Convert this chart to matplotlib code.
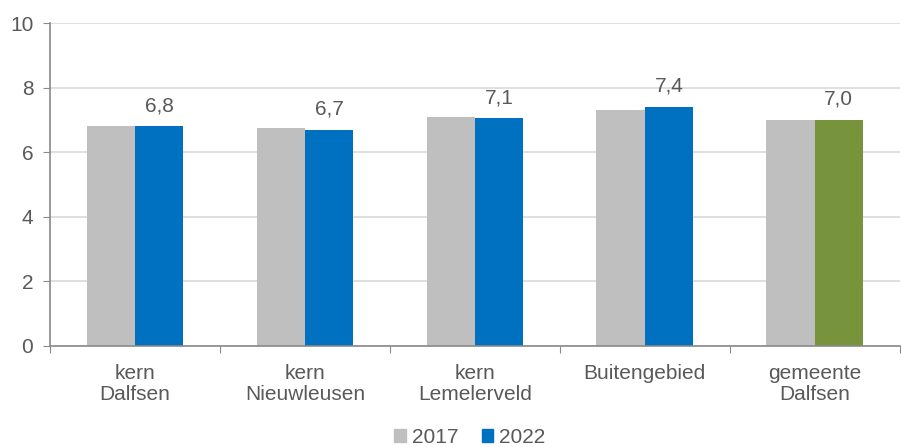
import numpy as np
import matplotlib.pyplot as plt
from matplotlib.patches import Patch

plt.rcParams['font.family'] = ['Liberation Sans', 'DejaVu Sans']

categories = ['kern\nDalfsen', 'kern\nNieuwleusen', 'kern\nLemelerveld', 'Buitengebied', 'gemeente\nDalfsen']
v2017 = [6.8, 6.75, 7.1, 7.3, 7.0]
v2022 = [6.8, 6.7, 7.05, 7.4, 7.0]
labels2022 = ['6,8', '6,7', '7,1', '7,4', '7,0']

grey = '#bfbfbf'
blue = '#0070c0'
green = '#77933c'
txt = '#595959'
fs = 15

fig = plt.figure(figsize=(9.02, 4.47), dpi=100)
ax = fig.add_axes([0.0554, 0.226, 0.942, 0.7225])

x = np.arange(len(categories))
w = 0.284
cols22 = [blue] * 4 + [green]
ax.bar(x - w / 2, v2017, w, color=grey, zorder=2)
ax.bar(x + w / 2, v2022, w, color=cols22, zorder=2)

for xi, v, lab in zip(x, v2022, labels2022):
    ax.annotate(lab, (xi + w / 2, v), xytext=(0, 8), textcoords='offset points',
                ha='center', va='bottom', fontsize=fs, color=txt)

ax.set_xlim(-0.5, len(categories) - 0.5)
ax.set_ylim(0, 10)
ax.set_yticks(range(0, 11, 2))
ax.yaxis.grid(True, color='#d9d9d9', linewidth=1.2, zorder=0)

ax.set_xticks(np.arange(-0.5, len(categories), 1.0))
ax.set_xticklabels([])
ax.set_xticks(x, minor=True)
ax.set_xticklabels(categories, minor=True, fontsize=fs, color=txt, linespacing=1.1)
ax.tick_params(axis='x', which='minor', length=0, pad=13)
ax.tick_params(axis='x', which='major', length=5, color='#898989', direction='out')
ax.tick_params(axis='y', length=5, color='#898989', labelsize=fs, labelcolor=txt, pad=7)

for s in ['top', 'right']:
    ax.spines[s].set_visible(False)
for s in ['left', 'bottom']:
    ax.spines[s].set_color('#898989')
    ax.spines[s].set_linewidth(1.2)

handles = [Patch(color=grey, label='2017'), Patch(color=blue, label='2022')]
fig.legend(handles=handles, loc='center', bbox_to_anchor=(0.521, 0.022), ncol=2,
           frameon=False, fontsize=fs, labelcolor=txt, handlelength=0.55, handleheight=0.55,
           handletextpad=0.3, columnspacing=1.1)

fig.savefig('out.png', dpi=100)
